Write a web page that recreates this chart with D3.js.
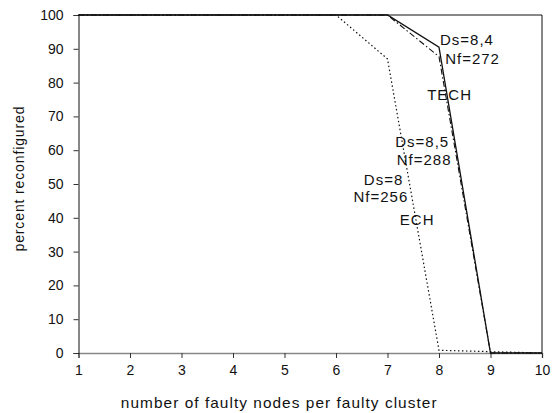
<!DOCTYPE html>
<html><head><meta charset="utf-8">
<script src="https://cdn.jsdelivr.net/npm/d3@7"></script>
<style>
body{margin:0;background:#fff;}
text{font-family:"Liberation Sans",Arial,Helvetica,sans-serif;fill:#111;}
</style></head>
<body><svg id="c" width="552" height="413"></svg>
<script>
const xValues = [1,2,3,4,5,6,7,8,9,10];
const seriesSolid   = [100,100,100,100,100,100,100,90.5,0,0];
const seriesDashDot = [100,100,100,100,100,100,100,87.7,0,0];
const seriesDotted  = [100,100,100,100,100,100,87,0.8,0.4,0];
const xTicks = [1,2,3,4,5,6,7,8,9,10];
const yTicks = [0,10,20,30,40,50,60,70,80,90,100];
const annotations = [
  {text:"Ds=8,4", x:8.02, y:91.1},
  {text:"Nf=272", x:8.12, y:85.4},
  {text:"TECH",   x:7.77, y:74.9},
  {text:"Ds=8,5", x:7.15, y:60.9},
  {text:"Nf=288", x:7.18, y:55.6},
  {text:"Ds=8",   x:6.54, y:49.7},
  {text:"Nf=256", x:6.34, y:44.8},
  {text:"ECH",    x:7.24, y:37.9}
];

const svg = d3.select("#c");
const L=78.5, R=542, T=15, B=353;
const x = d3.scaleLinear().domain([1,10]).range([L,R]);
const y = d3.scaleLinear().domain([0,100]).range([B,T]);

svg.append("line").attr("x1",L).attr("x2",R).attr("y1",T).attr("y2",T).attr("stroke","#111").attr("stroke-width",1);
svg.append("line").attr("x1",R).attr("x2",R).attr("y1",T).attr("y2",B).attr("stroke","#111").attr("stroke-width",1);

const xAxis = svg.append("g").attr("transform",`translate(0,${B})`)
  .call(d3.axisBottom(x).tickValues(xTicks).tickSize(5).tickPadding(7).tickFormat(d3.format("d")));
xAxis.select(".domain").attr("stroke","#888").attr("stroke-width",1.5);
xAxis.selectAll(".tick line").attr("stroke","#333");
xAxis.selectAll("text").attr("font-size",14).style("font-family","Liberation Sans, Arial, sans-serif").attr("fill","#111");

const yAxis = svg.append("g").attr("transform",`translate(${L},0)`)
  .call(d3.axisLeft(y).tickValues(yTicks).tickSize(5).tickPadding(10));
yAxis.select(".domain").attr("stroke","#111").attr("stroke-width",1);
yAxis.selectAll(".tick line").attr("stroke","#333");
yAxis.selectAll("text").attr("font-size",14).style("font-family","Liberation Sans, Arial, sans-serif").attr("fill","#111");

const line = d3.line().x((d,i)=>x(xValues[i])).y(d=>y(d));
svg.append("path").datum(seriesDotted).attr("d",line).attr("fill","none")
  .attr("stroke","#111").attr("stroke-width",1.2).attr("stroke-dasharray","1.5,2.5");
svg.append("path").datum(seriesDashDot).attr("d",line).attr("fill","none")
  .attr("stroke","#111").attr("stroke-width",1.1).attr("stroke-dasharray","6,2.5,1.5,2.5");
svg.append("path").datum(seriesSolid).attr("d",line).attr("fill","none")
  .attr("stroke","#111").attr("stroke-width",1.3);

svg.selectAll("text.ann").data(annotations).enter().append("text")
  .attr("class","ann").attr("x",d=>x(d.x)).attr("y",d=>y(d.y))
  .attr("font-size",15).style("letter-spacing","1px").text(d=>d.text);

svg.append("text").attr("transform","translate(278.7,408) scale(1.1,1)").attr("text-anchor","middle")
  .attr("font-size",14).attr("textLength",287).attr("lengthAdjust","spacing")
  .text("number of faulty nodes per faulty cluster");
svg.append("text").attr("transform","translate(24,179) rotate(-90)").attr("text-anchor","middle")
  .attr("font-size",14).attr("textLength",145).attr("lengthAdjust","spacing")
  .text("percent reconfigured");
</script></body></html>
